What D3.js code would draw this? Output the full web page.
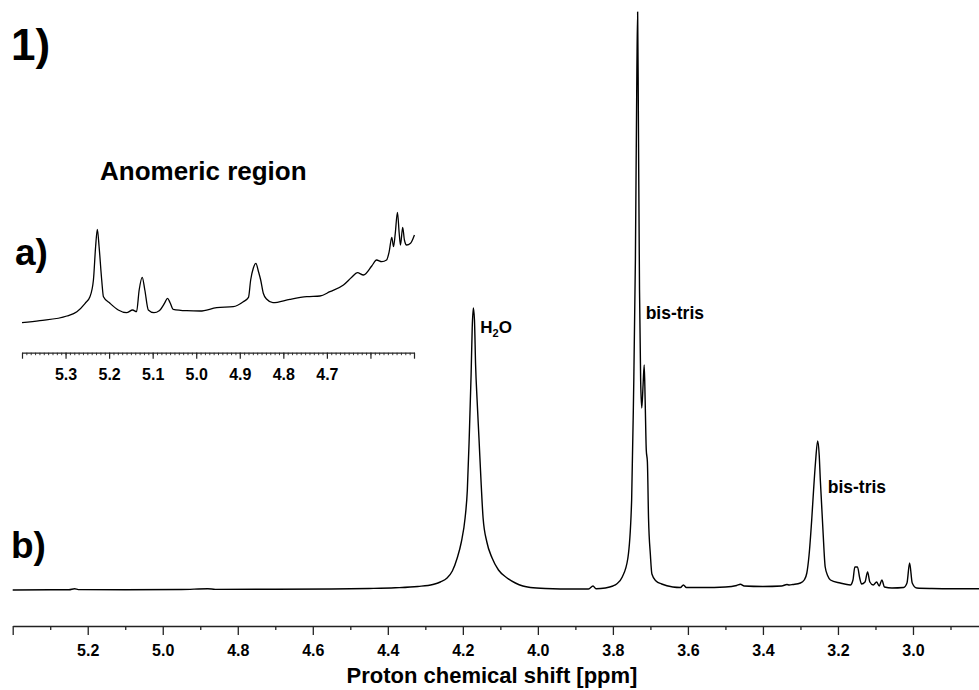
<!DOCTYPE html>
<html>
<head>
<meta charset="utf-8">
<script src="https://cdn.jsdelivr.net/npm/d3@7"></script>
<style>
  html, body { margin: 0; padding: 0; background: #fff; }
  svg { display: block; }
  text { font-family: "Liberation Sans", Arial, Helvetica, sans-serif; font-weight: bold; fill: #000; }
</style>
</head>
<body>
<svg id="chart" width="979" height="690"></svg>
<script>
// ---------------- DATA ----------------
// Main spectrum b): chemical shift (ppm) and intensity (a.u.)
const mainShift = [
  5.400, 5.300, 5.250, 5.235, 5.225, 5.100, 4.950, 4.880, 4.860, 4.700,
  4.550, 4.450, 4.380, 4.320, 4.280, 4.260, 4.242, 4.228, 4.215, 4.204,
  4.194, 4.188, 4.183, 4.178, 4.175, 4.172, 4.169, 4.166, 4.162, 4.157,
  4.151, 4.146, 4.136, 4.122, 4.105, 4.082, 4.060, 4.040, 4.020, 3.980,
  3.900, 3.865, 3.853, 3.845, 3.820, 3.800, 3.790, 3.775, 3.760, 3.750,
  3.745, 3.740, 3.736, 3.734, 3.732, 3.729, 3.726, 3.723, 3.7195, 3.7165,
  3.714, 3.711, 3.708, 3.705, 3.700, 3.696, 3.685, 3.670, 3.640, 3.620,
  3.612, 3.604, 3.560, 3.500, 3.470, 3.460, 3.450, 3.400, 3.350, 3.336,
  3.330, 3.320, 3.300, 3.290, 3.283, 3.277, 3.270, 3.265, 3.260, 3.254,
  3.250, 3.247, 3.240, 3.234, 3.227, 3.220, 3.194, 3.167, 3.160, 3.155,
  3.148, 3.142, 3.137, 3.128, 3.121, 3.115, 3.106, 3.097, 3.090, 3.083,
  3.076, 3.056, 3.025, 3.016, 3.009, 3.002, 2.990, 2.950, 2.900, 2.824
];
const mainIntensity = [
  0, 0.3, 0.2, 1.2, 0.4, 0.3, 0.5, 1.3, 0.6, 0.8,
  1.0, 1.5, 2.2, 3.5, 5.5, 8, 12, 19, 32, 48,
  72, 100, 152, 215, 262, 282, 270, 225, 190, 152,
  105, 72, 48, 32, 20, 12, 7, 4, 2.5, 1.5,
  1, 1, 4, 1.2, 2, 4, 6, 13, 32, 90,
  192, 330, 520, 578, 470, 300, 210, 182, 205, 225,
  190, 140, 128, 72, 35, 16, 9, 6, 3, 2.5,
  5, 2.5, 2.5, 3, 4.5, 5.7, 4, 3.5, 4, 5.5,
  5, 5.5, 7, 10, 17, 35, 70, 100, 127, 149,
  135, 110, 60, 23, 14, 10, 7, 5, 10, 23,
  23, 12, 6, 8, 18, 8, 5, 8, 4, 10,
  3, 2, 2.5, 7, 27, 7, 2, 1.5, 1.3, 1.2
];

// Inset a): anomeric region
const insetShift = [
  5.400, 5.359, 5.297, 5.274, 5.255, 5.244, 5.236, 5.231, 5.227, 5.223,
  5.217, 5.213, 5.198, 5.179, 5.160, 5.146, 5.137, 5.131, 5.124, 5.118,
  5.110, 5.097, 5.085, 5.072, 5.066, 5.060, 5.053, 5.022, 4.991, 4.953,
  4.915, 4.892, 4.880, 4.875, 4.869, 4.863, 4.857, 4.852, 4.846, 4.838,
  4.824, 4.785, 4.746, 4.716, 4.693, 4.662, 4.643, 4.630, 4.616, 4.597,
  4.586, 4.574, 4.563, 4.557, 4.551, 4.547, 4.543, 4.538, 4.534, 4.531,
  4.526, 4.522, 4.517, 4.508, 4.499
];
const insetIntensity = [
  7.3, 9.3, 14, 18.3, 26.7, 33.3, 50, 83.3, 100.7, 83.3,
  50, 33.3, 26.7, 20, 17.3, 20, 18.3, 40, 52.7, 40,
  20, 17.3, 19.3, 27.3, 31.7, 27.3, 20.7, 19.3, 19, 22.3,
  23.3, 28.3, 32.7, 50, 61.7, 66.7, 58.3, 50, 36.7, 30.7,
  27.3, 30.7, 33.3, 34, 38.3, 45, 52.7, 57.3, 55, 64,
  70, 68.3, 70, 78.3, 92.7, 83.3, 96.7, 117.7, 96.7, 85,
  102.7, 90, 85, 86.7, 95
];

// Axis ticks
const mainMajorTicks = [5.4, 5.2, 5.0, 4.8, 4.6, 4.4, 4.2, 4.0, 3.8, 3.6, 3.4, 3.2, 3.0];
const mainMinorTicks = [5.3, 5.1, 4.9, 4.7, 4.5, 4.3, 4.1, 3.9, 3.7, 3.5, 3.3, 3.1, 2.9];
const mainTickLabels = ["5.2", "5.0", "4.8", "4.6", "4.4", "4.2", "4.0", "3.8", "3.6", "3.4", "3.2", "3.0"];
const insetMajorTicks = [5.4, 5.3, 5.2, 5.1, 5.0, 4.9, 4.8, 4.7, 4.6, 4.5];
const insetTickLabels = ["5.3", "5.2", "5.1", "5.0", "4.9", "4.8", "4.7"];

// Annotations
const peakLabels = [
  { text: "H", sub: "2", after: "O", shift: 4.172 },
  { text: "bis-tris", shift: 3.734 },
  { text: "bis-tris", shift: 3.254 }
];

// ---------------- DRAWING ----------------
const svg = d3.select("#chart");
const mainData = mainShift.map((s, i) => ({ s, v: mainIntensity[i] }));
const insetData = insetShift.map((s, i) => ({ s, v: insetIntensity[i] }));

// Main scales
const x = d3.scaleLinear().domain([5.4, 2.824]).range([12.7, 979]);
const y = d3.scaleLinear().domain([0, 578]).range([590, 12]);

// Inset scales
const xi = d3.scaleLinear().domain([5.4, 4.5]).range([22, 414]);
const yi = d3.scaleLinear().domain([0, 130]).range([330, 200]);

// Main spectrum
svg.append("path")
  .datum(mainData)
  .attr("fill", "none")
  .attr("stroke", "#000")
  .attr("stroke-width", 1.4)
  .attr("stroke-linejoin", "round")
  .attr("d", d3.line().x(d => x(d.s)).y(d => y(d.v)).curve(d3.curveMonotoneX));

// Inset spectrum
svg.append("path")
  .datum(insetData)
  .attr("fill", "none")
  .attr("stroke", "#000")
  .attr("stroke-width", 1.3)
  .attr("stroke-linejoin", "round")
  .attr("d", d3.line().x(d => xi(d.s)).y(d => yi(d.v)).curve(d3.curveMonotoneX));

// Main axis: minor ticks
const mainAxisY = 626;
svg.append("g")
  .attr("transform", `translate(0,${mainAxisY})`)
  .call(d3.axisBottom(x).tickValues(mainMinorTicks.filter(t => t >= 2.824)).tickSize(4).tickSizeOuter(0).tickFormat(""))
  .call(g => g.select(".domain").remove())
  .call(g => g.selectAll("line").attr("stroke", "#222").attr("stroke-width", 1.3));

// Main axis: major ticks + labels
const fmtMain = d => { const s = d3.format(".1f")(d); return mainTickLabels.includes(s) ? s : ""; };
svg.append("g")
  .attr("transform", `translate(0,${mainAxisY})`)
  .call(d3.axisBottom(x).tickValues(mainMajorTicks).tickSize(9).tickSizeOuter(0).tickPadding(10).tickFormat(fmtMain))
  .call(g => g.select(".domain").attr("stroke", "#222").attr("stroke-width", 1.4))
  .call(g => g.selectAll("line").attr("stroke", "#222").attr("stroke-width", 1.3))
  .call(g => g.selectAll("text").attr("font-size", 16).attr("font-family", "Liberation Sans, Arial, sans-serif").attr("font-weight", "bold").attr("fill", "#000"));

// Axis title
svg.append("text")
  .attr("x", 492).attr("y", 683)
  .attr("text-anchor", "middle")
  .attr("font-size", 22)
  .text("Proton chemical shift [ppm]");

// Inset axis: minor ticks every 0.01 ppm
const insetAxisY = 352.7;
const insetMinor = d3.range(0, 91).map(i => +(5.4 - i * 0.01).toFixed(2));
svg.append("g")
  .attr("transform", `translate(0,${insetAxisY})`)
  .call(d3.axisBottom(xi).tickValues(insetMinor).tickSize(2.5).tickSizeOuter(0).tickFormat(""))
  .call(g => g.select(".domain").remove())
  .call(g => g.selectAll("line").attr("stroke", "#222").attr("stroke-width", 0.9));

const fmtInset = d => { const s = d3.format(".1f")(d); return insetTickLabels.includes(s) ? s : ""; };
svg.append("g")
  .attr("transform", `translate(0,${insetAxisY})`)
  .call(d3.axisBottom(xi).tickValues(insetMajorTicks).tickSize(6).tickSizeOuter(0).tickPadding(10).tickFormat(fmtInset))
  .call(g => g.select(".domain").attr("stroke", "#222").attr("stroke-width", 1.2))
  .call(g => g.selectAll("line").attr("stroke", "#222").attr("stroke-width", 1.2))
  .call(g => g.selectAll("text").attr("font-size", 16).attr("font-family", "Liberation Sans, Arial, sans-serif").attr("font-weight", "bold").attr("fill", "#000"));

// Panel labels
svg.append("text").attr("x", 11).attr("y", 60).attr("font-size", 44).text("1)");
svg.append("text").attr("x", 15).attr("y", 265).attr("font-size", 37).text("a)");
svg.append("text").attr("x", 11).attr("y", 558).attr("font-size", 37).text("b)");
svg.append("text").attr("x", 100).attr("y", 180).attr("font-size", 26).text("Anomeric region");

// Peak annotations
const h2o = svg.append("text").attr("x", x(peakLabels[0].shift) + 7).attr("y", 333).attr("font-size", 17);
h2o.append("tspan").text(peakLabels[0].text);
h2o.append("tspan").attr("font-size", 11).attr("dy", 4).text(peakLabels[0].sub);
h2o.append("tspan").attr("dy", -4).text(peakLabels[0].after);

svg.append("text").attr("x", x(peakLabels[1].shift) + 8).attr("y", 319).attr("font-size", 17.5).text(peakLabels[1].text);
svg.append("text").attr("x", x(peakLabels[2].shift) + 10).attr("y", 493).attr("font-size", 17.5).text(peakLabels[2].text);
</script>
</body>
</html>
